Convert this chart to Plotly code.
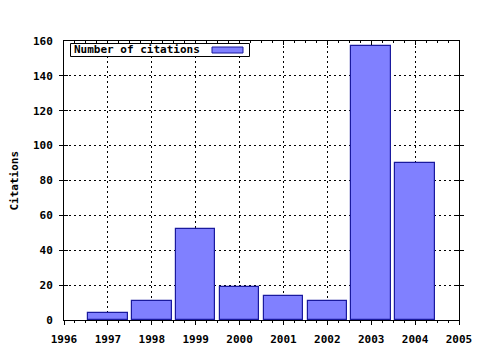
import plotly.graph_objects as go

years = [1997, 1998, 1999, 2000, 2001, 2002, 2003, 2004]
citations = [4, 11, 52, 19, 14, 11, 157, 90]
series_name = "Number of citations"
y_title = "Citations"

FONT = "DejaVu Sans Mono"
fill = "#8080ff"
edge = "#1a1a9e"

L, R, T, B = 64, 21, 41, 30
W, H = 480, 350
pw, ph = W - L - R, H - T - B

def px(x):
    return (x - L) / pw

def py(y):
    return (H - B - y) / ph

fig = go.Figure()
fig.add_trace(go.Bar(
    x=years, y=citations, name=series_name, width=0.9,
    marker=dict(color=fill, line=dict(color=edge, width=1.2)),
    showlegend=False,
))
fig.add_trace(go.Scatter(x=[1996], y=[0], xaxis="x2", mode="markers",
                         marker=dict(opacity=0), showlegend=False, hoverinfo="skip"))

axfont = dict(family=FONT, size=11, color="black", weight="bold")

fig.update_layout(
    width=W, height=H, autosize=False,
    margin=dict(l=L, r=R, t=T, b=B, pad=0, autoexpand=False),
    paper_bgcolor="white", plot_bgcolor="white",
    font=dict(family=FONT, size=11, color="black"),
    bargap=0,
    xaxis=dict(
        range=[1996, 2005], dtick=1, tick0=1996, automargin=False,
        showgrid=True, gridcolor="black", griddash="2px,3px", gridwidth=1,
        showline=True, linecolor="black", linewidth=1, mirror=True,
        ticks="outside", ticklen=4, tickcolor="black",
        minor=dict(dtick=0.25, ticks="outside", ticklen=2, tickcolor="black", showgrid=False),
        tickfont=axfont, ticklabelstandoff=5, zeroline=False,
    ),
    xaxis2=dict(
        range=[1996, 2005], dtick=1, overlaying="x", side="top", automargin=False,
        showgrid=False, showticklabels=False, showline=False,
        ticks="inside", ticklen=4, tickcolor="black",
        minor=dict(dtick=0.25, ticks="inside", ticklen=2, tickcolor="black"),
        zeroline=False,
    ),
    yaxis=dict(
        range=[0, 160], dtick=20, automargin=False,
        showgrid=True, gridcolor="black", griddash="2px,3px", gridwidth=1,
        showline=True, linecolor="black", linewidth=1, mirror="allticks",
        ticks="inside", ticklen=4, tickcolor="black",
        tickfont=axfont, ticklabelstandoff=8, zeroline=False,
    ),
    shapes=[
        dict(type="rect", xref="paper", yref="paper",
             x0=px(70.5), x1=px(249.5), y0=py(56.5), y1=py(43.5),
             line=dict(color="black", width=1), fillcolor="white", layer="above"),
        dict(type="rect", xref="paper", yref="paper",
             x0=px(212), x1=px(243), y0=py(53), y1=py(47),
             line=dict(color=edge, width=1), fillcolor=fill, layer="above"),
    ],
    annotations=[
        dict(text=series_name, xref="paper", yref="paper", x=px(72), y=py(50),
             xanchor="left", yanchor="middle", showarrow=False,
             font=dict(family=FONT, size=11, color="black", weight="bold")),
        dict(text=y_title, xref="paper", yref="paper", x=px(14), y=0.5,
             xanchor="center", yanchor="middle", textangle=-90, showarrow=False,
             font=dict(family=FONT, size=11, color="black", weight="bold")),
    ],
)

fig.write_html("out.html")
